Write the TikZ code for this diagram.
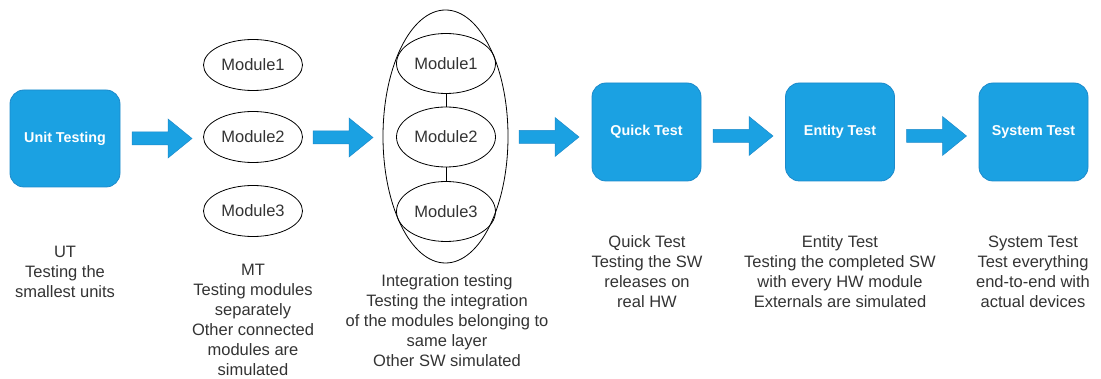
\documentclass[tikz,border=0pt]{standalone}
\usepackage{fontspec}
\setmainfont{Liberation Sans}
\usetikzlibrary{shapes.geometric}
\definecolor{bluefill}{HTML}{1BA1E2}
\definecolor{blueline}{HTML}{1C8ACB}
\definecolor{txt}{HTML}{333333}
\tikzset{
  testbox/.style={draw=blueline, fill=bluefill, line width=0.8pt, rounded corners=14pt,
    minimum width=#1, minimum height=98pt, inner sep=0pt, text=white,
    font=\fontsize{14.3}{17}\selectfont\bfseries},
  testbox/.default=109pt,
  module/.style={draw=black, line width=0.8pt, ellipse, minimum width=99pt,
    minimum height=#1, inner sep=0pt, text=txt, font=\fontsize{16.5}{20}\selectfont},
  module/.default=51pt,
  label/.style={align=center, inner sep=0pt, text=txt, font=\fontsize{16.5}{20}\selectfont},
  blockarrow/.pic={\fill[bluefill, draw=blueline, line width=0.5pt]
    (0,-6.5) -- (36,-6.5) -- (36,-19.5) -- (60,0) -- (36,19.5) -- (36,6.5) -- (0,6.5) -- cycle;}
}
\begin{document}
\begin{tikzpicture}[x=1pt,y=-1pt]
\useasboundingbox (0,0) rectangle (1101,379);
% boxes
\node[testbox=110pt, minimum height=97pt] (ut) at (65,138.5) {Unit Testing};
\node[testbox] (qt) at (646.5,132) {Quick Test};
\node[testbox] (et) at (840,132) {Entity Test};
\node[testbox] (st) at (1033.5,132) {System Test};
% MT modules
\node[module] (m1) at (253,65) {Module1};
\node[module] (m2) at (253,137) {Module2};
\node[module] (m3) at (253,211) {Module3};
% integration
\node[draw=black, line width=0.8pt, ellipse, minimum width=125pt, minimum height=253pt, inner sep=0pt] (big) at (445.5,136.5) {};
\node[module=60pt] (i1) at (446,63.5) {Module1};
\node[module=60pt] (i2) at (446,137) {Module2};
\node[module=60pt] (i3) at (446,211.5) {Module3};
\draw[line width=0.8pt] (i1) -- (i2);
\draw[line width=0.8pt] (i2) -- (i3);
% block arrows
\pic at (132,138.5) {blockarrow};
\pic at (313,137.5) {blockarrow};
\pic at (519,137) {blockarrow};
\pic at (713,136) {blockarrow};
\pic at (906.5,136) {blockarrow};
% labels
\node[label] (lut) at (65,271.5) {UT\\Testing the\\smallest units};
\node[label] (lmt) at (253,320) {MT\\Testing modules\\separately\\Other connected\\modules are\\simulated};
\node[label] (lit) at (447,321) {Integration testing\\Testing the integration\\of the modules belonging to\\same layer\\Other SW simulated};
\node[label] (lqt) at (647,272) {Quick Test\\Testing the SW\\releases on\\real HW};
\node[label] (let) at (840,272) {Entity Test\\Testing the completed SW\\with every HW module\\Externals are simulated};
\node[label] (lst) at (1033,272) {System Test\\Test everything\\end-to-end with\\actual devices};
\end{tikzpicture}
\end{document}
